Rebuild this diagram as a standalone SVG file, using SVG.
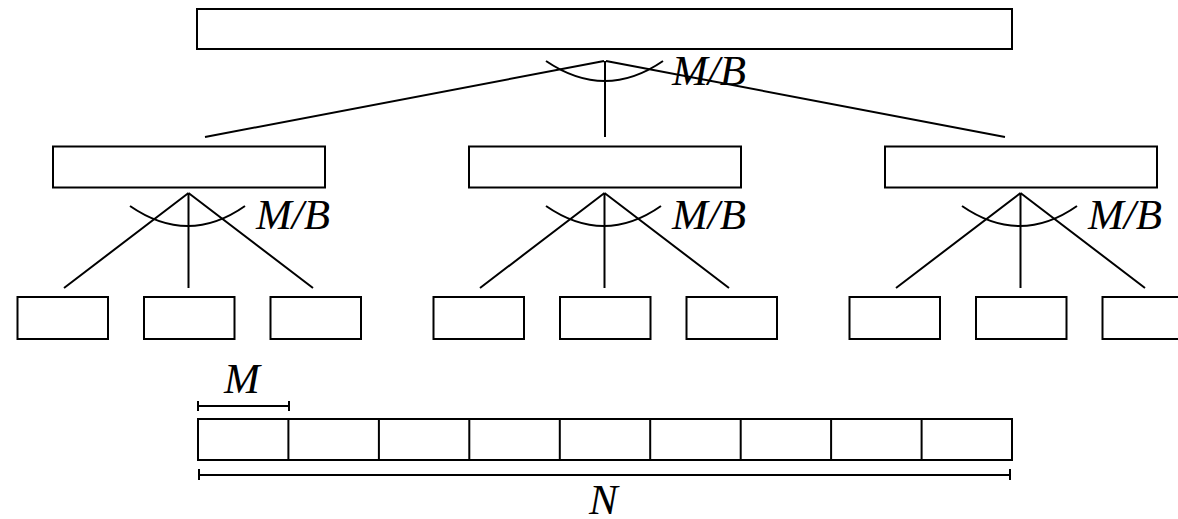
<svg xmlns="http://www.w3.org/2000/svg" width="1178" height="519" viewBox="0 0 1178 519">
<style>
.box{fill:#fff;stroke:#000;stroke-width:2}
.ln{fill:none;stroke:#000;stroke-width:2}
.lbl{font-family:"Liberation Serif","Times New Roman",serif;font-style:italic;font-size:43px;fill:#000}
</style>
<rect width="1178" height="519" fill="#fff"/>
<g id="root"><rect class="box" x="197" y="9" width="815" height="40"/></g>
<g id="mid1"><rect class="box" x="53" y="146.5" width="272" height="41"/></g>
<g id="mid2"><rect class="box" x="469" y="146.5" width="272" height="41"/></g>
<g id="mid3"><rect class="box" x="885" y="146.5" width="272" height="41"/></g>
<g id="leaf1"><rect class="box" x="17.5" y="297" width="90.5" height="42"/></g>
<g id="leaf2"><rect class="box" x="144" y="297" width="90.5" height="42"/></g>
<g id="leaf3"><rect class="box" x="270.5" y="297" width="90.5" height="42"/></g>
<g id="leaf4"><rect class="box" x="433.5" y="297" width="90.5" height="42"/></g>
<g id="leaf5"><rect class="box" x="560" y="297" width="90.5" height="42"/></g>
<g id="leaf6"><rect class="box" x="686.5" y="297" width="90.5" height="42"/></g>
<g id="leaf7"><rect class="box" x="849.5" y="297" width="90.5" height="42"/></g>
<g id="leaf8"><rect class="box" x="976" y="297" width="90.5" height="42"/></g>
<g id="leaf9"><rect class="box" x="1102.5" y="297" width="90.5" height="42"/></g>
<g id="array">
<rect class="box" x="198" y="419" width="814" height="41"/>
<path class="ln" d="M288.4,419V460M378.9,419V460M469.3,419V460M559.8,419V460M650.2,419V460M740.7,419V460M831.1,419V460M921.6,419V460"/>
</g>
<g id="connectors">
<path class="ln" d="M604,61L205,137M606,61L1005,137M605,61V137"/>
<path class="ln" d="M546,61Q605,101 663,61"/>
<path class="ln" d="M188.5,193L64,288M188.5,193V288M188.5,193L313,288"/>
<path class="ln" d="M130,206Q188,246 245,206"/>
<path class="ln" d="M604.5,193L480,288M604.5,193V288M604.5,193L729,288"/>
<path class="ln" d="M546,206Q604,246 661,206"/>
<path class="ln" d="M1020.5,193L896,288M1020.5,193V288M1020.5,193L1145,288"/>
<path class="ln" d="M962,206Q1020,246 1077,206"/>
<path class="ln" d="M198,406H289M198,401V411M289,401V411"/>
<path class="ln" d="M199,475H1010M199,469V480M1010,469V480"/>
</g>
<text class="lbl" x="672" y="85">M/B</text>
<text class="lbl" x="256" y="229">M/B</text>
<text class="lbl" x="672" y="229">M/B</text>
<text class="lbl" x="1088" y="229">M/B</text>
<text class="lbl" x="224" y="393">M</text>
<text class="lbl" x="589" y="514">N</text>
</svg>
